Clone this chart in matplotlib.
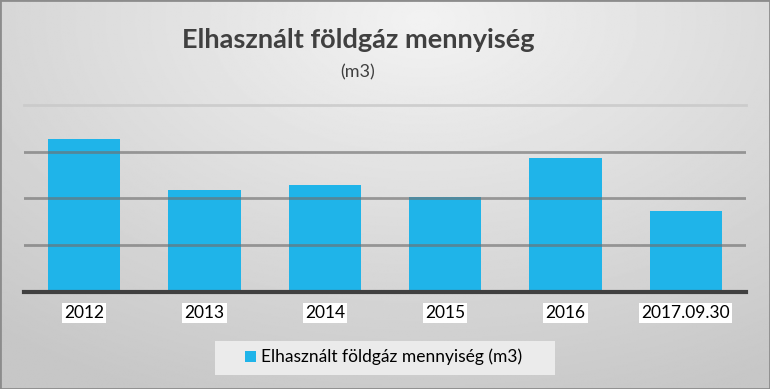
import numpy as np
import matplotlib.pyplot as plt
from matplotlib.patches import Rectangle

plt.rcParams['font.family'] = ['Lato', 'DejaVu Sans']

# Data (gridline step = 10000 m3)
years = ['2012', '2013', '2014', '2015', '2016', '2017.09.30']
gas_m3 = [32700, 21700, 22800, 20200, 28600, 17200]
label = 'Elhasznált földgáz mennyiség (m3)'

W, H = 770, 389
fig = plt.figure(figsize=(W / 100, H / 100), dpi=100)

# background gradient
bg = fig.add_axes([0, 0, 1, 1], zorder=-10)
yy, xx = np.mgrid[0:1:300j, 0:1:600j]
r = np.sqrt(((xx - 0.55) / 0.85) ** 2 + ((yy - 0.05) / 1.05) ** 2)
shade = 0.95 - 0.17 * np.clip(r, 0, 1)
bg.imshow(shade, cmap='gray', vmin=0, vmax=1, aspect='auto',
          extent=[0, 1, 1, 0])
bg.add_patch(Rectangle((0, 0), 1, 1, transform=bg.transAxes, fill=False,
                       edgecolor='#8c8c8c', linewidth=2))
# legend box
bg.add_patch(Rectangle((215 / W, 1 - 375 / H), 340 / W, 34 / H,
                       transform=bg.transAxes, facecolor='#ebebeb',
                       edgecolor='none'))
bg.set_xlim(0, 1)
bg.set_ylim(1, 0)
bg.set_axis_off()

ax = fig.add_axes([24 / W, 1 - 291.5 / H, 722 / W, 186.5 / H])
ax.set_facecolor('none')
x = np.arange(len(years))
ax.bar(x, gas_m3, width=0.6, color='#1fb4e9', zorder=2, label=label)
ax.set_ylim(0, 40000)
ax.set_xlim(-0.5, len(years) - 0.5)
for g in [10000, 20000, 30000]:
    ax.axhline(g, color='#707070', linewidth=2, alpha=0.65, zorder=3)
ax.axhline(40000, color='#c8c8c8', linewidth=2, alpha=0.8, zorder=3, clip_on=False)
ax.set_yticks([])
ax.tick_params(axis='x', length=0, pad=10)
ax.set_xticks(x)
ax.set_xticklabels(years, fontsize=12.5, color='black')
for t in ax.get_xticklabels():
    t.set_bbox(dict(facecolor='white', edgecolor='none', pad=1.5))
for s in ['top', 'right', 'left']:
    ax.spines[s].set_visible(False)
ax.spines['bottom'].set_color('#404040')
ax.spines['bottom'].set_linewidth(3)
ax.spines['bottom'].set_zorder(4)

fig.text(0.465, 0.898, 'Elhasznált földgáz mennyiség', ha='center', va='center',
         fontsize=19.5, fontweight='bold', color='#404040')
fig.text(0.465, 0.815, '(m3)', ha='center', va='center',
         fontsize=13, color='#404040')

leg = fig.legend(loc='center', bbox_to_anchor=(0.498, 0.082), fontsize=12.5,
                 frameon=False, handlelength=0.6, handleheight=0.6,
                 handletextpad=0.3, borderaxespad=0)

fig.savefig('out.png', dpi=100)
